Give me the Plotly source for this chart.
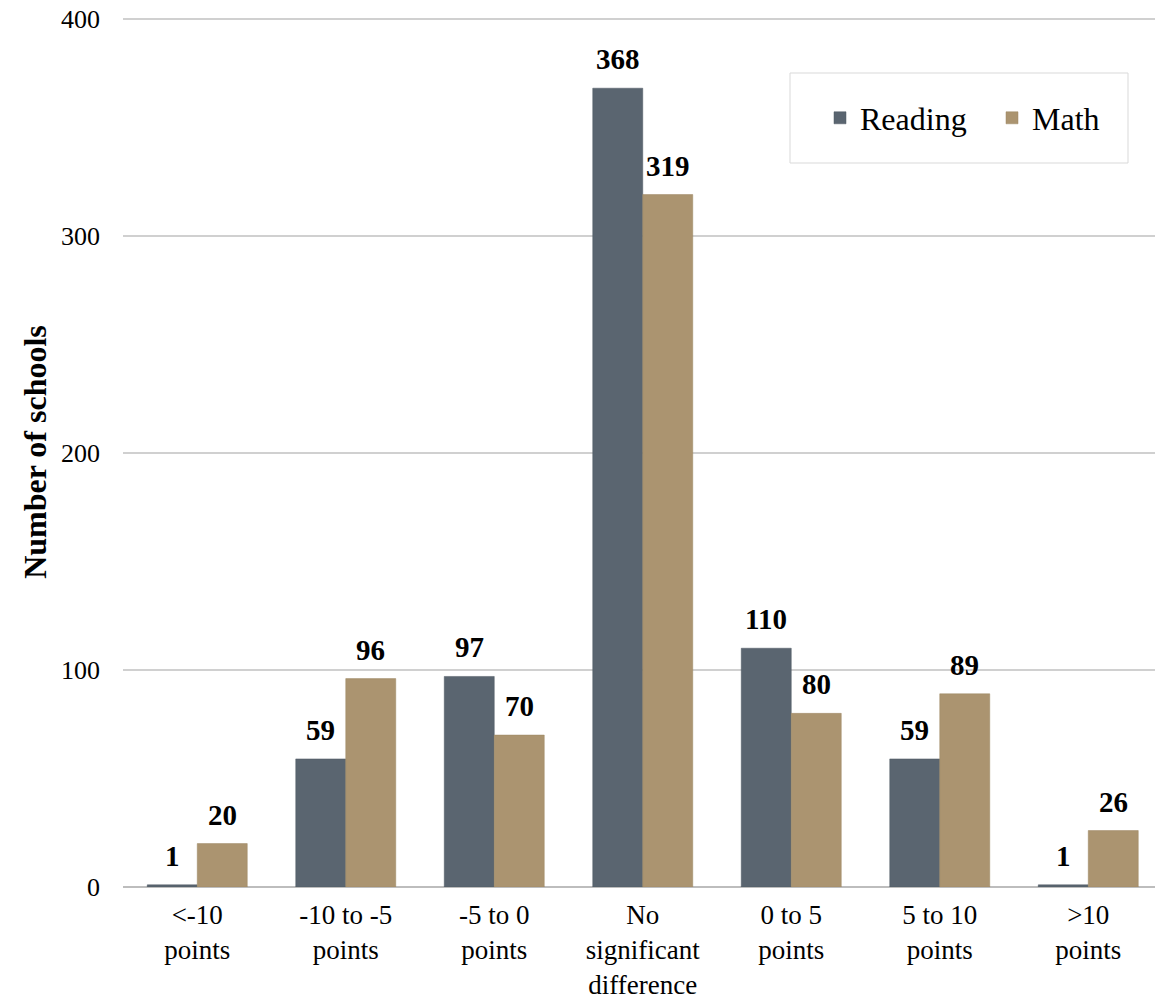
import plotly.graph_objects as go

categories = ["&lt;-10<br>points", "-10 to -5<br>points", "-5 to 0<br>points",
              "No<br>significant<br>difference", "0 to 5<br>points",
              "5 to 10<br>points", "&gt;10<br>points"]
reading = [1, 59, 97, 368, 110, 59, 1]
math = [20, 96, 70, 319, 80, 89, 26]

FONT = "Liberation Serif"
READ_C = "#5a6570"
MATH_C = "#ab9470"

L, R, T, B = 123, 0, 17, 114
W, H = 1155, 1001
pw = W - L - R
ph = H - T - B
GROUP_PX = 148.5
BAR_PX = 50

fig = go.Figure()
fig.add_trace(go.Bar(x=categories, y=reading, name="Reading", marker_color=READ_C,
                     marker_line=dict(color="#4e5862", width=0.5),
                     legend="legend", showlegend=True))
fig.add_trace(go.Bar(x=categories, y=math, name="Math", marker_color=MATH_C,
                     marker_line=dict(color="#9c8663", width=0.5),
                     legend="legend2", showlegend=True))

for series, shift in ((reading, -BAR_PX / 2), (math, BAR_PX / 2)):
    for cat, v in zip(categories, series):
        fig.add_annotation(x=cat, y=v, xref="x", yref="y", text=f"<b>{v}</b>",
                           showarrow=False, xanchor="center", yanchor="bottom",
                           xshift=shift, yshift=11,
                           font=dict(family=FONT, size=29, color="black"))

def px_x(v):
    return (v - L) / pw

def px_y(v):
    return (H - B - v) / ph

fig.add_shape(type="rect", xref="paper", yref="paper",
              x0=px_x(790), x1=px_x(1128), y0=px_y(163), y1=px_y(73),
              line=dict(color="#d9d9d9", width=1), fillcolor="rgba(0,0,0,0)")

leg_common = dict(orientation="h", xanchor="left", yanchor="middle",
                  font=dict(family=FONT, size=32, color="black"),
                  bgcolor="rgba(0,0,0,0)", borderwidth=0)

fig.update_layout(
    width=W, height=H,
    margin=dict(l=L, r=R, t=T, b=B),
    paper_bgcolor="white", plot_bgcolor="white",
    showlegend=True,
    barmode="group", bargap=1 - 2 * BAR_PX / GROUP_PX, bargroupgap=0,
    font=dict(family=FONT, color="black"),
    legend=dict(x=px_x(820), y=px_y(118), **leg_common),
    legend2=dict(x=px_x(992), y=px_y(118), **leg_common),
    xaxis=dict(range=[-0.5, -0.5 + pw / GROUP_PX], showgrid=False, showline=False,
               ticks="", tickfont=dict(family=FONT, size=27, color="black"),
               ticklabelstandoff=9, automargin=False, fixedrange=True),
    yaxis=dict(range=[0, 400.8], tickvals=[0, 100, 200, 300, 400],
               showgrid=True, gridcolor="#d0d0d0", gridwidth=2,
               zeroline=True, zerolinecolor="#bdbdbd", zerolinewidth=2,
               showline=False, ticks="", ticklabelstandoff=22,
               tickfont=dict(family=FONT, size=26, color="black"),
               title=dict(text="<b>Number of schools</b>", standoff=4,
                          font=dict(family=FONT, size=32, color="black")),
               automargin=False, fixedrange=True),
)

fig.write_html("out.html")
